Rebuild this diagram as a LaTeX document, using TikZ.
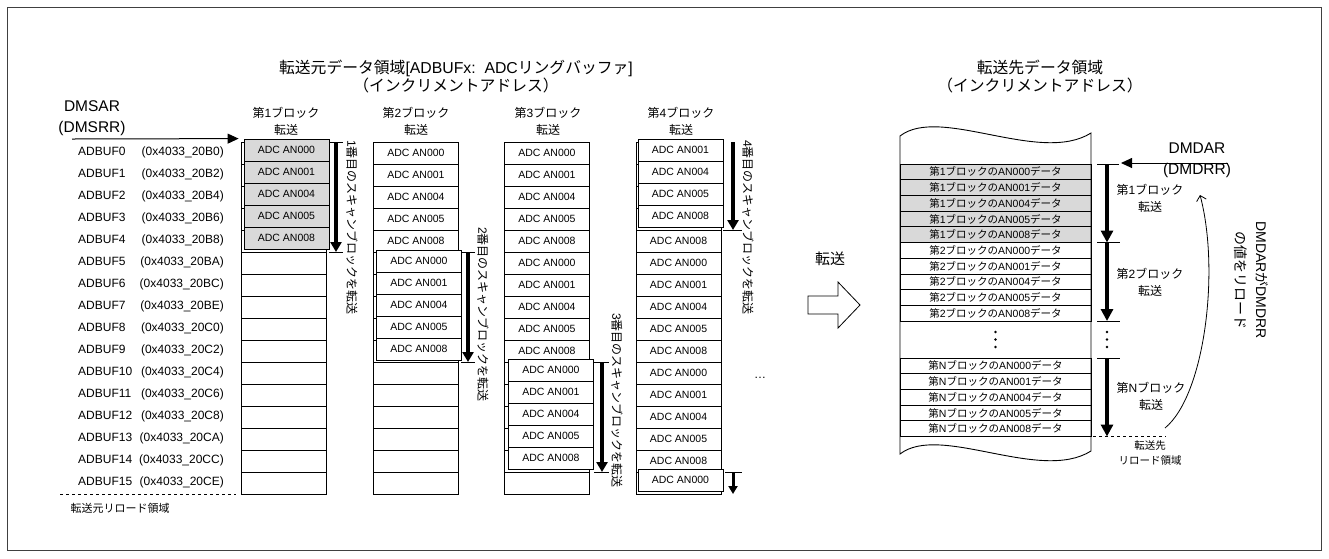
\documentclass[tikz,border=0pt]{standalone}
\usepackage{fontspec}
\setmainfont{Liberation Sans}
\newfontfamily\jpf{Noto Sans CJK JP}
\newcommand\JA[1]{{\jpf #1}}
\usetikzlibrary{arrows.meta}
\begin{document}
\begin{tikzpicture}[x=1pt,y=-1pt,
  cell/.style={draw, line width=0.9pt, minimum width=85pt, minimum height=22pt, inner sep=0pt, font=\fontsize{10.5}{12}\selectfont, fill=white},
  ocell/.style={cell, line width=0.8pt},
  gcell/.style={ocell, fill=gray!30},
  txt/.style={inner sep=0pt, font=\fontsize{10.5}{12}\selectfont},
  lab/.style={font=\fontsize{12}{14}\selectfont, inner sep=0pt},
  hdr/.style={font=\fontsize{12}{17}\selectfont, align=center, inner sep=0pt},
  ttl/.style={font=\fontsize{15.8}{18}\selectfont, align=center, inner sep=0pt},
  big/.style={font=\fontsize{15.5}{21}\selectfont, align=center, inner sep=0pt},
  smalltxt/.style={font=\fontsize{10.5}{15}\selectfont, align=center, inner sep=0pt},
  fatarrow/.style={line width=4pt, -{Triangle[length=10pt,width=11pt]}},
  fatarrowR/.style={line width=4pt, -{Triangle[length=12pt,width=12pt]}},
  tickline/.style={line width=0.8pt},
  vtext/.style={rotate=-90, anchor=west, inner sep=0pt, font=\fontsize{12}{14}\selectfont},
  drow/.style={draw, line width=0.7pt, minimum width=191pt, minimum height=15.7pt, inner sep=0pt, font=\fontsize{10.5}{12}\selectfont},
  ptr/.style={line width=1pt, -{Triangle[length=11pt,width=10pt]}},
]
\useasboundingbox (0,0) rectangle (1329,558);
\draw[line width=0.8pt, black!75] (7.5,7.5) rectangle (1321.5,550.5);

% titles
\node[ttl] (srcT) at (456,77) {\JA{転送元データ領域}[ADBUFx:\ \ ADC\JA{リングバッファ}]\\\JA{（インクリメントアドレス）}};
\node[ttl] (dstT) at (1040,77) {\JA{転送先データ領域}\\\JA{（インクリメントアドレス）}};

% source labels
\node[big] (dmsar) at (92,118.5) {DMSAR\\(DMSRR)};
\foreach \kk/\ad in {0/B0,1/B2,2/B4,3/B6,4/B8,5/BA,6/BC,7/BE,8/C0,9/C2,10/C4,11/C6,12/C8,13/CA,14/CC,15/CE}{
  \node[lab, anchor=mid west] (buf\kk) at (78,153+22*\kk) {ADBUF\kk};
  \node[lab, anchor=mid east] (adr\kk) at (224,153+22*\kk) {(0x4033\_20\ad)};
}
\coordinate (dl1) at (60,494);
\coordinate (dl2) at (236,494);
\draw[dashed, line width=0.7pt] (dl1) -- (dl2);
\node[smalltxt, font=\fontsize{11}{13}\selectfont] (srcR) at (120,508) {\JA{転送元リロード領域}};

% column headers
\foreach \cc/\xx in {1/286,2/416,3/548,4/681}{
  \node[hdr] (h\cc) at (\xx,121.5) {\JA{第}\cc\JA{ブロック}\\\JA{転送}};
}

% base cells
\foreach \cc/\xx in {1/283.5,2/416,3/547,4/678.5}{
  \foreach \rr in {0,...,15}{
    \node[cell] (c\cc r\rr) at (\xx,153+22*\rr) {};
  }
}
% cell texts
\foreach \rr/\nn in {0/000,1/001,2/004,3/005,4/008}{
  \node[txt] (t2r\rr) at (c2r\rr) {ADC AN\nn};
  \node[txt] (t3r\rr) at (c3r\rr) {ADC AN\nn};
}
\foreach \rr/\nn in {5/000,6/001,7/004,8/005,9/008}{
  \node[txt] (t3r\rr) at (c3r\rr) {ADC AN\nn};
  \node[txt] (t4r\rr) at (c4r\rr) {ADC AN\nn};
}
\foreach \rr/\nn in {10/000,11/001,12/004,13/005,14/008}{
  \node[txt] (t4r\rr) at (c4r\rr) {ADC AN\nn};
}
\node[txt] (t4r4) at (c4r4) {ADC AN008};

% overlays
\foreach \rr/\nn in {0/000,1/001,2/004,3/005,4/008}{
  \node[gcell] (o1r\rr) at ([shift={(3,-3)}]c1r\rr) {ADC AN\nn};
}
\foreach \rr/\nn in {5/000,6/001,7/004,8/005,9/008}{
  \node[ocell] (o2r\rr) at ([shift={(3,-2)}]c2r\rr) {ADC AN\nn};
}
\foreach \rr/\nn in {10/000,11/001,12/004,13/005,14/008}{
  \node[ocell] (o3r\rr) at ([shift={(4,-3)}]c3r\rr) {ADC AN\nn};
}
\foreach \rr/\nn in {0/001,1/004,2/005,3/008}{
  \node[ocell] (o4r\rr) at ([shift={(2,-3)}]c4r\rr) {ADC AN\nn};
}
\node[ocell] (o4r15) at ([shift={(2,-3)}]c4r15) {ADC AN000};

% pointer DMSAR
\coordinate (dmsarS) at (72,139);
\draw[ptr] (dmsarS) -- ([xshift=-5pt]o1r0.north west);

% scan arrows
\coordinate (a1s) at (336,142); \coordinate (a1e) at (336,252);
\draw[tickline] (329,142) -- (343,142);
\draw[tickline] (329,252) -- (343,252);
\draw[fatarrow] (a1s) -- (a1e);
\node[vtext] (v1) at (352,140) {1\JA{番目のスキャンブロックを転送}};

\coordinate (a2s) at (468,252); \coordinate (a2e) at (468,362);
\draw[tickline] (461,252) -- (475,252);
\draw[tickline] (461,362) -- (475,362);
\draw[fatarrow] (a2s) -- (a2e);
\node[vtext] (v2) at (483,227) {2\JA{番目のスキャンブロックを転送}};

\coordinate (a3s) at (602,362); \coordinate (a3e) at (602,472);
\draw[tickline] (594,362) -- (609,362);
\draw[tickline] (594,472) -- (609,472);
\draw[fatarrow] (a3s) -- (a3e);
\node[vtext] (v3) at (617,313) {3\JA{番目のスキャンブロックを転送}};

\coordinate (a4s) at (733,142); \coordinate (a4e) at (733,230);
\draw[tickline] (723,230) -- (742,230);
\draw[fatarrow] (a4s) -- (a4e);
\node[vtext] (v4) at (748,140) {4\JA{番目のスキャンブロックを転送}};
\coordinate (a5s) at (733,472); \coordinate (a5e) at (733,494);
\draw[tickline] (725,472) -- (742,472);
\draw[line width=3pt, -{Triangle[length=8pt,width=9pt]}] (a5s) -- (a5e);

\node[font=\fontsize{12}{14}\selectfont, inner sep=0pt] (ell) at (760,378) {…};

% transfer block arrow
\draw[line width=0.8pt, fill=white] (808,296) -- (838,296) -- (838,282) -- (860,305) -- (838,328) -- (838,314) -- (808,314) -- cycle;
\node[font=\fontsize{15}{18}\selectfont, inner sep=0pt] (xfer) at (830,259) {\JA{転送}};

% destination shape
\fill[white] (900,136) .. controls (940,105) and (1040,165) .. (1091,133) -- (1091,451) .. controls (1040,483) and (940,423) .. (900,454) -- cycle;
\foreach \ii/\nn in {0/000,1/001,2/004,3/005,4/008}{
  \node[drow, fill=gray!30] (d1r\ii) at (995.5,171.85+15.7*\ii) {\JA{第}1\JA{ブロックの}AN\nn\JA{データ}};
  \node[drow] (d2r\ii) at (995.5,250.35+15.7*\ii) {\JA{第}2\JA{ブロックの}AN\nn\JA{データ}};
  \node[drow] (dNr\ii) at (995.5,365.85+15.7*\ii) {\JA{第}N\JA{ブロックの}AN\nn\JA{データ}};
}
\draw[line width=0.9pt] (900,136) .. controls (940,105) and (1040,165) .. (1091,133) -- (1091,451) .. controls (1040,483) and (940,423) .. (900,454) -- cycle;
\foreach \yy in {332,339.5,347}{
  \fill (995.5,\yy) circle (1.3);
  \fill (1107,\yy) circle (1.3);
}

% destination arrows
\coordinate (b1s) at (1107,164); \coordinate (b1e) at (1107,242.5);
\draw[tickline] (1097,164) -- (1119,164);
\draw[tickline] (1097,242.5) -- (1120,242.5);
\draw[fatarrowR] (b1s) -- (b1e);
\coordinate (b2s) at (1107,242.5); \coordinate (b2e) at (1107,321);
\draw[tickline] (1097,321) -- (1120,321);
\draw[fatarrowR] (b2s) -- (b2e);
\coordinate (b3s) at (1107,358); \coordinate (b3e) at (1107,436.5);
\draw[tickline] (1097,358) -- (1120,358);
\draw[fatarrowR] (b3s) -- (b3e);
\coordinate (dr1) at (1093,436.5); \coordinate (dr2) at (1166,436.5);
\draw[dashed, line width=0.7pt] (dr1) -- (dr2);

\node[hdr] (r1) at (1150,198.5) {\JA{第}1\JA{ブロック}\\\JA{転送}};
\node[hdr] (r2) at (1150,282.5) {\JA{第}2\JA{ブロック}\\\JA{転送}};
\node[hdr] (rN) at (1151,396) {\JA{第}N\JA{ブロック}\\\JA{転送}};
\node[smalltxt] (rr) at (1150,453.5) {\JA{転送先}\\\JA{リロード領域}};

% DMDAR
\node[big] (dmdar) at (1197,160) {DMDAR\\(DMDRR)};
\coordinate (ddaS) at (1228,163); \coordinate (ddaE) at (1121,163);
\draw[ptr] (ddaS) -- (ddaE);

% reload curve
\coordinate (cv1) at (1165,428); \coordinate (cv2) at (1200,195);
\draw[line width=0.8pt, -{Straight Barb[length=5pt,width=10pt]}] (cv1) .. controls (1205,395) and (1220,270) .. (cv2);
\node[rotate=-90, font=\fontsize{14}{21}\selectfont, align=center, inner sep=0pt] (reload) at (1251,280) {DMDAR\JA{が}DMDRR\\\JA{の値をリロード}};
\end{tikzpicture}
\end{document}
